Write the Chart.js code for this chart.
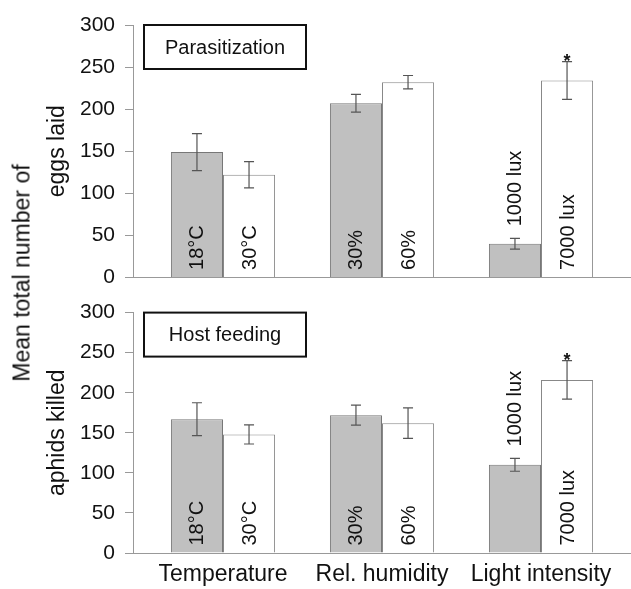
<!DOCTYPE html>
<html>
<head>
<meta charset="utf-8">
<script src="https://cdn.jsdelivr.net/npm/chart.js@4.4.1/dist/chart.umd.min.js"></script>
<style>
  body { margin: 0; background: #fff; }
  #fig { position: relative; width: 631px; height: 589px; font-family: "Liberation Sans", Arial, sans-serif; }
  .panel { position: absolute; left: 0; width: 631px; }
  #topPanel { top: 0; height: 300px; }
  #bottomPanel { top: 290px; height: 299px; }
  #ylab {
    position: absolute; left: 22px; top: 273px;
    transform: translate(-50%, -50%) rotate(-90deg);
    font-size: 23px; white-space: nowrap; color: #111;
  }
</style>
</head>
<body>
<div id="fig">
  <div class="panel" id="topPanel"><canvas id="chartTop"></canvas></div>
  <div class="panel" id="bottomPanel"><canvas id="chartBottom"></canvas></div>
  <div id="ylab">Mean total number of</div>
</div>
<script>
const groups = ['Temperature', 'Rel. humidity', 'Light intensity'];
const greyLabels = ['18°C', '30%', '1000 lux'];
const whiteLabels = ['30°C', '60%', '7000 lux'];

// Parasitization: eggs laid
const eggsGrey = [149, 207, 40];
const eggsGreyErr = [22, 10.5, 6.5];
const eggsWhite = [122, 232, 234];
const eggsWhiteErr = [15.5, 8, 22.5];
const eggsSig = ['', '', '*'];

// Host feeding: aphids killed
const killedGrey = [167, 172, 110];
const killedGreyErr = [20.5, 12.5, 8];
const killedWhite = [148, 162, 216];
const killedWhiteErr = [12, 19, 24];
const killedSig = ['', '', '*'];

const FONT = '"Liberation Sans", Arial, sans-serif';
Chart.defaults.font.family = FONT;
Chart.defaults.color = '#111';

function extrasPlugin(cfg) {
    return {
        id: 'panelExtras',
        afterDatasetsDraw(chart) {
            const ctx = chart.ctx;
            const y = chart.scales.y;
            const area = chart.chartArea;
            ctx.save();

            [0, 1].forEach(function (di) {
                const meta = chart.getDatasetMeta(di);
                const vals = cfg.values[di];
                const errs = cfg.errors[di];
                const texts = cfg.texts[di];
                meta.data.forEach(function (bar, i) {
                    const hi = y.getPixelForValue(vals[i] + errs[i]);
                    const lo = y.getPixelForValue(vals[i] - errs[i]);

                    // error bar
                    ctx.strokeStyle = '#555';
                    ctx.lineWidth = 1.2;
                    ctx.beginPath();
                    ctx.moveTo(bar.x, hi);
                    ctx.lineTo(bar.x, lo);
                    ctx.moveTo(bar.x - 5, hi);
                    ctx.lineTo(bar.x + 5, hi);
                    ctx.moveTo(bar.x - 5, lo);
                    ctx.lineTo(bar.x + 5, lo);
                    ctx.stroke();

                    // condition label, inside the bar if it fits
                    ctx.font = '20px ' + FONT;
                    ctx.fillStyle = '#111';
                    const w = ctx.measureText(texts[i]).width;
                    let start = bar.base - 7;
                    if (w + 14 > bar.base - bar.y) start = hi - 12;
                    ctx.save();
                    ctx.translate(bar.x + 1, start);
                    ctx.rotate(-Math.PI / 2);
                    ctx.textAlign = 'left';
                    ctx.textBaseline = 'middle';
                    ctx.fillText(texts[i], 0, 0);
                    ctx.restore();

                    if (di == 1 && cfg.sig[i]) {
                        ctx.font = 'bold 18px ' + FONT;
                        ctx.textAlign = 'center';
                        ctx.textBaseline = 'alphabetic';
                        ctx.fillText(cfg.sig[i], bar.x, hi + 5);
                    }
                });
            });

            // boxed panel title
            const bx = area.left + 11, by = area.top, bw = 162, bh = 44;
            ctx.fillStyle = '#fff';
            ctx.fillRect(bx, by, bw, bh);
            ctx.strokeStyle = '#111';
            ctx.lineWidth = 2;
            ctx.strokeRect(bx, by, bw, bh);
            ctx.fillStyle = '#111';
            ctx.font = '20px ' + FONT;
            ctx.textAlign = 'center';
            ctx.textBaseline = 'middle';
            ctx.fillText(cfg.title, bx + bw / 2, by + bh / 2 + 1);
            ctx.restore();
        }
    };
}

function makePanel(id, cfg) {
    const toXY = (arr) => arr.map((v, i) => ({ x: i, y: v }));
    return new Chart(document.getElementById(id), {
        type: 'bar',
        data: {
            datasets: [
                {
                    data: toXY(cfg.values[0]),
                    backgroundColor: '#c0c0c0',
                    borderColor: '#777',
                    borderWidth: 1,
                    categoryPercentage: 0.655,
                    barPercentage: 1
                },
                {
                    data: toXY(cfg.values[1]),
                    backgroundColor: '#ffffff',
                    borderColor: '#888',
                    borderWidth: 1,
                    categoryPercentage: 0.655,
                    barPercentage: 1
                }
            ]
        },
        options: {
            responsive: true,
            maintainAspectRatio: false,
            animation: false,
            layout: { padding: { top: cfg.padTop, bottom: cfg.padBottom, left: 0, right: 0 } },
            plugins: { legend: { display: false }, tooltip: { enabled: false } },
            scales: {
                x: {
                    type: 'linear',
                    min: -0.566,
                    max: 2.566,
                    offset: false,
                    grid: { display: false, drawTicks: false },
                    border: { color: '#999', width: 1 },
                    afterBuildTicks: function (scale) {
                        scale.ticks = groups.map((g, i) => ({ value: i }));
                    },
                    afterFit: function (scale) {
                        scale.height = cfg.showX ? 36 : 0;
                    },
                    ticks: {
                        display: cfg.showX,
                        padding: 8,
                        maxRotation: 0,
                        font: { size: 23 },
                        callback: (v) => groups[v]
                    }
                },
                y: {
                    min: 0,
                    max: 300,
                    grid: { drawOnChartArea: false, drawTicks: true, tickLength: 8, color: '#999' },
                    border: { color: '#999', width: 1 },
                    ticks: { stepSize: 50, padding: 10, font: { size: 21 } },
                    title: {
                        display: true,
                        text: cfg.ytitle,
                        font: { size: 23 },
                        padding: { top: 44, bottom: 0 }
                    },
                    afterFit: function (scale) {
                        scale.width = 133;
                    }
                }
            }
        },
        plugins: [extrasPlugin(cfg)]
    });
}

makePanel('chartTop', {
    title: 'Parasitization',
    ytitle: 'eggs laid',
    values: [eggsGrey, eggsWhite],
    errors: [eggsGreyErr, eggsWhiteErr],
    texts: [greyLabels, whiteLabels],
    sig: eggsSig,
    showX: false,
    padTop: 25,
    padBottom: 22
});

makePanel('chartBottom', {
    title: 'Host feeding',
    ytitle: 'aphids killed',
    values: [killedGrey, killedWhite],
    errors: [killedGreyErr, killedWhiteErr],
    texts: [greyLabels, whiteLabels],
    sig: killedSig,
    showX: true,
    padTop: 21,
    padBottom: 0
});
</script>
</body>
</html>
